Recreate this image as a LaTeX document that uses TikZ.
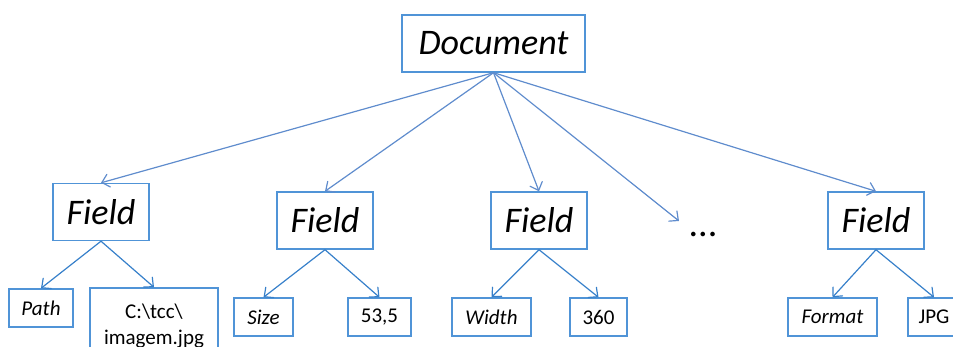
\documentclass[tikz,border=0pt]{standalone}
\usepackage{fontspec}
\setmainfont{Carlito}
\usetikzlibrary{arrows.meta}
\definecolor{boxblue}{RGB}{80,148,215}
\definecolor{toparrow}{RGB}{95,140,205}
\definecolor{subarrow}{RGB}{55,128,202}
\tikzset{
  box/.style={draw=boxblue, line width=1.4pt, rectangle, inner sep=0pt, text=black},
  fieldbox/.style={box, minimum width=96pt, minimum height=57pt, font=\fontsize{36}{40}\selectfont\itshape},
  leafbox/.style={box, minimum height=38pt, font=\fontsize{21}{25}\selectfont},
  keybox/.style={leafbox, font=\fontsize{21}{25}\selectfont\itshape},
  tip/.style={-{Straight Barb[length=7pt,width=13pt,line cap=round]}},
  toplink/.style={tip, draw=toparrow, line width=1.2pt},
  sublink/.style={tip, draw=subarrow, line width=1.2pt}
}
\begin{document}
\begin{tikzpicture}[x=1pt,y=-1pt]
\useasboundingbox (0,0) rectangle (953,347);
\clip (0,0) rectangle (953,347);
% root
\node[box, minimum width=183pt, minimum height=57pt,
      font=\fontsize{36}{40}\selectfont\itshape] (doc) at (493.5,43.5) {Document};
% fields
\node[fieldbox] (f1) at (101,212) {Field};
\node[fieldbox] (f2) at (325,220.5) {Field};
\node[fieldbox] (f3) at (539,220.5) {Field};
\node[font=\fontsize{38}{40}\selectfont] (dots) at (703,234) {...};
\coordinate (dotsend) at (679,221);
\node[fieldbox] (f5) at (876,220.5) {Field};
% leaves
\node[keybox, minimum width=64pt] (path) at (41,308) {Path};
\node[leafbox, minimum width=128pt, minimum height=76pt, align=center,
      font=\fontsize{21}{26}\selectfont] (img) at (154,326) {C:\textbackslash tcc\textbackslash\\imagem.jpg};
\node[keybox, minimum width=59pt] (size) at (263.5,317) {Size};
\node[leafbox, minimum width=63pt] (sizev) at (379.5,317) {53,5};
\node[keybox, minimum width=79pt] (width) at (491.5,317) {Width};
\node[leafbox, minimum width=57pt] (widthv) at (598.5,317) {360};
\node[keybox, minimum width=89pt] (format) at (832.5,317) {Format};
\node[leafbox, minimum width=52pt] (formatv) at (934,317) {JPG};
% root to fields
\draw[toplink] (doc.south) -- (f1.north);
\draw[toplink] (doc.south) -- (f2.north);
\draw[toplink] (doc.south) -- (f3.north);
\draw[toplink] (doc.south) -- (dotsend);
\draw[toplink] (doc.south) -- (f5.north);
% fields to leaves
\draw[sublink] (f1.south) -- (path.north);
\draw[sublink] (f1.south) -- (img.north);
\draw[sublink] (f2.south) -- (size.north);
\draw[sublink] (f2.south) -- (sizev.north);
\draw[sublink] (f3.south) -- (width.north);
\draw[sublink] (f3.south) -- (widthv.north);
\draw[sublink] (f5.south) -- (format.north);
\draw[sublink] (f5.south) -- (formatv.north);
\end{tikzpicture}
\end{document}
